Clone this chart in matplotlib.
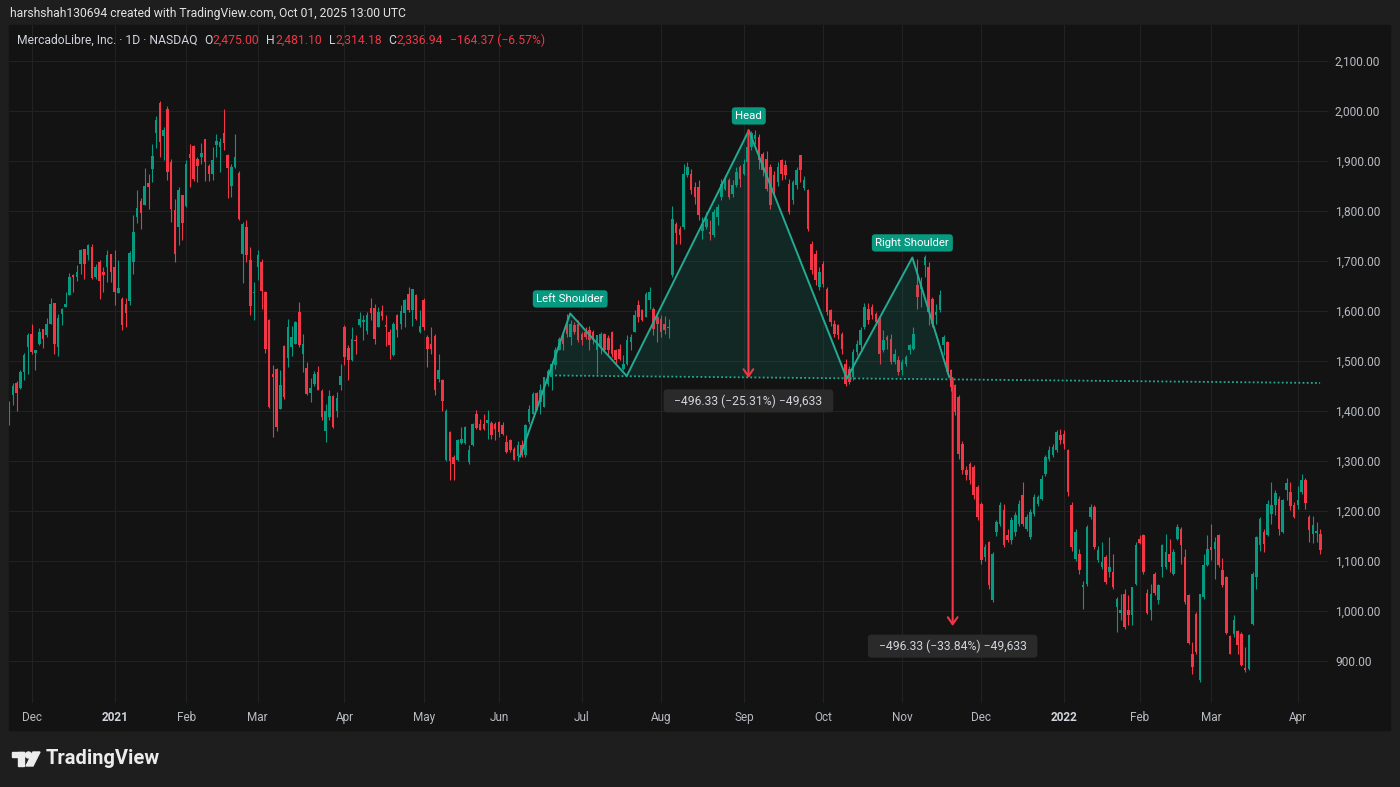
import numpy as np
import pandas as pd
import matplotlib.pyplot as plt
from matplotlib.patches import Rectangle, Ellipse, Polygon

plt.rcParams['font.family'] = ['Roboto', 'DejaVu Sans']

# NASDAQ holidays inside the shown range
holidays = ['2020-11-26', '2020-12-25', '2021-01-01', '2021-01-18', '2021-02-15',
            '2021-04-02', '2021-05-31', '2021-07-05', '2021-09-06', '2021-11-25',
            '2021-12-24', '2022-01-17', '2022-02-21']

# MELI daily candles (one row per month)
opens = [
    1380, 1432, 1457, 1447, 1478, 1528,
    1554, 1516, 1534, 1565, 1552, 1575, 1617, 1528, 1594, 1608, 1632, 1672, 1668, 1695, 1725, 1712, 1728, 1668, 1698, 1679, 1688, 1715,
    1688, 1636, 1625, 1615, 1620, 1699, 1789, 1821, 1812, 1857, 1885, 1957, 2017, 1951, 2004, 1899, 1802, 1769, 1832,
    1810, 1914, 1930, 1904, 1909, 1945, 1891, 1874, 1932, 1928, 1957, 1912, 1850, 1889, 1877, 1715, 1769, 1702, 1636,
    1689, 1699, 1639, 1582, 1474, 1485, 1405, 1530, 1507, 1529, 1535, 1599, 1514, 1487, 1437, 1454, 1479, 1441, 1360, 1389, 1430, 1401, 1452,
    1569, 1527, 1502, 1543, 1572, 1579, 1561, 1607, 1607, 1569, 1601, 1572, 1559, 1512, 1592, 1575, 1597, 1634, 1602, 1632, 1559,
    1623, 1549, 1535, 1551, 1465, 1462, 1302, 1358, 1309, 1303, 1337, 1337, 1299, 1332, 1395, 1374, 1375, 1377, 1377, 1374,
    1379, 1372, 1339, 1343, 1325, 1310, 1332, 1312, 1379, 1395, 1437, 1419, 1409, 1455, 1469, 1492, 1522, 1552, 1575, 1549, 1572, 1575,
    1554, 1559, 1563, 1559, 1522, 1529, 1555, 1547, 1559, 1522, 1525, 1485, 1495, 1539, 1559, 1612, 1602, 1589, 1622, 1605, 1589,
    1585, 1575, 1566, 1672, 1775, 1765, 1769, 1872, 1875, 1849, 1849, 1761, 1769, 1759, 1752, 1789, 1829, 1845, 1862, 1835, 1852, 1889,
    1875, 1899, 1929, 1945, 1949, 1915, 1905, 1889, 1872, 1859, 1902, 1892, 1855, 1822, 1852, 1912, 1847, 1842, 1735, 1715, 1649,
    1695, 1645, 1602, 1575, 1572, 1555, 1495, 1485, 1469, 1519, 1532, 1569, 1605, 1609, 1595, 1582, 1522, 1549, 1545, 1499, 1502,
    1482, 1495, 1522, 1525, 1652, 1645, 1692, 1689, 1625, 1592, 1602, 1532, 1539, 1482, 1452, 1429, 1335, 1282, 1295, 1289, 1249,
    1215, 1109, 1138, 1022, 1158, 1175, 1202, 1152, 1142, 1158, 1175, 1232, 1165, 1148, 1195, 1215, 1225, 1275, 1305, 1312, 1322, 1352,
    1355, 1322, 1212, 1105, 1115, 1049, 1055, 1189, 1209, 1102, 1089, 1109, 1079, 1079, 1009, 997, 1035, 1002, 992, 1055,
    1145, 1152, 1037, 1003, 1075, 1022, 1089, 1089, 1115, 1075, 1145, 1165, 1109, 1032, 915, 995, 862, 1029, 1092,
    1129, 1125, 1152, 1083, 1069, 950, 955, 960, 955, 887, 885, 975, 1069, 1132, 1159, 1152, 1194, 1212, 1225, 1159, 1242, 1239, 1212,
    1212, 1239, 1263, 1189, 1155, 1157, 1154,
]
highs = [
    1420, 1456, 1460, 1482, 1517, 1557,
    1575, 1523, 1567, 1565, 1586, 1627, 1617, 1594, 1606, 1638, 1676, 1674, 1692, 1725, 1725, 1734, 1734, 1694, 1702, 1688, 1722, 1715,
    1723, 1703, 1628, 1627, 1720, 1792, 1843, 1827, 1887, 1875, 1935, 1990, 2020, 1969, 2010, 1905, 1825, 1849, 1832,
    1902, 1935, 1933, 1909, 1937, 1945, 1894, 1929, 1954, 1947, 2004, 1915, 1894, 1954, 1881, 1779, 1782, 1729, 1659,
    1722, 1705, 1641, 1585, 1492, 1487, 1482, 1532, 1585, 1570, 1581, 1619, 1554, 1499, 1467, 1481, 1491, 1444, 1414, 1443, 1433, 1439, 1495,
    1572, 1532, 1569, 1552, 1599, 1592, 1599, 1627, 1615, 1609, 1612, 1592, 1565, 1579, 1595, 1612, 1625, 1649, 1645, 1635, 1603,
    1626, 1552, 1569, 1554, 1515, 1465, 1404, 1360, 1312, 1345, 1369, 1370, 1332, 1377, 1403, 1385, 1395, 1403, 1381, 1379,
    1381, 1379, 1352, 1345, 1329, 1341, 1342, 1375, 1412, 1439, 1439, 1455, 1469, 1485, 1499, 1529, 1549, 1555, 1595, 1582, 1579, 1582,
    1559, 1569, 1570, 1562, 1552, 1559, 1557, 1552, 1561, 1525, 1535, 1512, 1552, 1555, 1602, 1622, 1605, 1639, 1649, 1609, 1595,
    1592, 1590, 1585, 1810, 1779, 1770, 1895, 1899, 1885, 1859, 1862, 1789, 1799, 1782, 1805, 1815, 1865, 1872, 1867, 1862, 1889, 1892,
    1905, 1939, 1961, 1962, 1955, 1918, 1920, 1895, 1880, 1899, 1905, 1902, 1865, 1862, 1889, 1912, 1870, 1845, 1740, 1722, 1689,
    1700, 1649, 1605, 1582, 1575, 1559, 1505, 1490, 1525, 1542, 1569, 1617, 1617, 1615, 1599, 1589, 1562, 1552, 1555, 1525, 1510,
    1505, 1512, 1535, 1569, 1705, 1669, 1712, 1699, 1629, 1615, 1642, 1552, 1541, 1485, 1455, 1432, 1340, 1290, 1299, 1292, 1252,
    1218, 1135, 1140, 1118, 1182, 1218, 1215, 1165, 1188, 1198, 1222, 1258, 1195, 1205, 1235, 1232, 1272, 1312, 1330, 1335, 1362, 1365,
    1362, 1325, 1218, 1165, 1125, 1060, 1172, 1215, 1212, 1130, 1139, 1112, 1148, 1115, 1029, 1035, 1045, 1032, 1049, 1139,
    1152, 1155, 1045, 1055, 1078, 1055, 1135, 1155, 1145, 1125, 1175, 1169, 1125, 1035, 938, 998, 1035, 1115, 1152,
    1175, 1149, 1155, 1107, 1071, 952, 992, 962, 958, 929, 955, 1078, 1150, 1189, 1165, 1222, 1259, 1242, 1230, 1225, 1267, 1259, 1219,
    1250, 1275, 1266, 1192, 1190, 1178, 1165,
]
lows = [
    1372, 1412, 1400, 1445, 1462, 1475,
    1515, 1482, 1532, 1527, 1549, 1575, 1515, 1510, 1572, 1608, 1632, 1638, 1660, 1674, 1665, 1702, 1665, 1665, 1625, 1638, 1658, 1658,
    1612, 1636, 1563, 1568, 1612, 1674, 1777, 1765, 1812, 1805, 1858, 1927, 1909, 1902, 1862, 1779, 1699, 1732, 1742,
    1809, 1849, 1861, 1859, 1895, 1861, 1861, 1862, 1909, 1879, 1923, 1827, 1829, 1887, 1782, 1657, 1699, 1593, 1582,
    1663, 1605, 1517, 1407, 1349, 1361, 1405, 1425, 1489, 1510, 1534, 1529, 1479, 1432, 1419, 1450, 1442, 1382, 1339, 1382, 1367, 1389, 1442,
    1492, 1462, 1500, 1515, 1569, 1542, 1555, 1582, 1535, 1569, 1582, 1530, 1505, 1510, 1549, 1565, 1569, 1599, 1570, 1583, 1557,
    1563, 1489, 1515, 1432, 1459, 1400, 1300, 1262, 1262, 1300, 1335, 1335, 1295, 1330, 1365, 1362, 1363, 1345, 1345, 1343,
    1349, 1352, 1317, 1319, 1302, 1301, 1309, 1309, 1375, 1395, 1402, 1395, 1409, 1450, 1442, 1485, 1522, 1522, 1549, 1532, 1555, 1539,
    1532, 1545, 1522, 1535, 1475, 1515, 1519, 1510, 1509, 1495, 1502, 1482, 1492, 1522, 1559, 1579, 1581, 1589, 1605, 1552, 1539,
    1549, 1555, 1547, 1668, 1735, 1735, 1765, 1869, 1835, 1815, 1782, 1745, 1765, 1743, 1749, 1772, 1822, 1842, 1825, 1829, 1849, 1849,
    1872, 1895, 1922, 1935, 1885, 1870, 1840, 1805, 1835, 1850, 1862, 1865, 1795, 1815, 1845, 1859, 1842, 1760, 1675, 1652, 1642,
    1648, 1592, 1570, 1549, 1545, 1515, 1450, 1455, 1462, 1512, 1525, 1565, 1575, 1585, 1572, 1495, 1519, 1525, 1495, 1495, 1472,
    1472, 1490, 1515, 1523, 1605, 1609, 1669, 1572, 1569, 1575, 1599, 1512, 1475, 1440, 1392, 1305, 1275, 1262, 1255, 1225, 1182,
    1095, 1100, 1045, 1018, 1150, 1170, 1128, 1138, 1135, 1150, 1170, 1170, 1160, 1145, 1190, 1210, 1222, 1270, 1300, 1308, 1318, 1335,
    1325, 1230, 1120, 1100, 1075, 1005, 1050, 1185, 1125, 1098, 1085, 1055, 1069, 1045, 958, 982, 965, 972, 972, 1052,
    1135, 1075, 995, 983, 1033, 1015, 1069, 1085, 1079, 1073, 1142, 1095, 1015, 935, 875, 915, 858, 1025, 1090,
    1102, 1065, 1089, 1049, 955, 914, 949, 915, 890, 879, 883, 972, 1045, 1121, 1119, 1150, 1175, 1192, 1152, 1157, 1222, 1202, 1187,
    1205, 1235, 1205, 1139, 1137, 1139, 1115,
]
closes = [
    1415, 1450, 1437, 1478, 1512, 1552,
    1518, 1522, 1559, 1545, 1575, 1615, 1534, 1587, 1605, 1615, 1668, 1668, 1678, 1722, 1695, 1732, 1667, 1688, 1661, 1672, 1712, 1679,
    1638, 1647, 1572, 1597, 1717, 1759, 1807, 1797, 1850, 1849, 1911, 1982, 1939, 1962, 1879, 1805, 1715, 1842, 1777,
    1894, 1907, 1865, 1890, 1917, 1899, 1875, 1903, 1941, 1938, 1937, 1887, 1889, 1909, 1785, 1774, 1712, 1611, 1638,
    1712, 1641, 1525, 1409, 1469, 1369, 1452, 1429, 1569, 1549, 1579, 1532, 1535, 1434, 1447, 1475, 1443, 1389, 1401, 1430, 1369, 1427, 1470,
    1509, 1502, 1545, 1541, 1585, 1582, 1592, 1597, 1545, 1599, 1591, 1569, 1532, 1575, 1562, 1601, 1622, 1602, 1645, 1585, 1570,
    1569, 1525, 1525, 1443, 1482, 1420, 1400, 1301, 1295, 1342, 1345, 1368, 1322, 1375, 1367, 1363, 1365, 1382, 1352, 1365,
    1359, 1355, 1319, 1322, 1303, 1332, 1312, 1372, 1405, 1435, 1403, 1442, 1469, 1480, 1495, 1522, 1545, 1535, 1555, 1575, 1559, 1542,
    1542, 1549, 1542, 1542, 1552, 1555, 1522, 1522, 1515, 1502, 1505, 1495, 1542, 1549, 1592, 1589, 1582, 1635, 1639, 1565, 1575,
    1559, 1562, 1568, 1785, 1757, 1752, 1875, 1889, 1842, 1829, 1792, 1775, 1785, 1755, 1799, 1809, 1855, 1867, 1829, 1852, 1879, 1865,
    1895, 1929, 1957, 1952, 1902, 1882, 1845, 1812, 1842, 1889, 1875, 1872, 1799, 1859, 1882, 1882, 1862, 1765, 1682, 1662, 1679,
    1655, 1599, 1579, 1555, 1552, 1525, 1455, 1459, 1519, 1535, 1562, 1609, 1582, 1592, 1579, 1515, 1542, 1542, 1499, 1515, 1479,
    1499, 1509, 1532, 1555, 1629, 1652, 1709, 1599, 1575, 1599, 1632, 1549, 1479, 1449, 1399, 1315, 1282, 1272, 1262, 1232, 1189,
    1102, 1128, 1052, 1115, 1178, 1212, 1132, 1142, 1182, 1192, 1215, 1175, 1188, 1198, 1228, 1228, 1265, 1308, 1322, 1329, 1358, 1342,
    1335, 1238, 1128, 1158, 1082, 1052, 1169, 1209, 1129, 1122, 1099, 1059, 1089, 1049, 1025, 1002, 969, 992, 1049, 1132,
    1137, 1079, 997, 1035, 1037, 1052, 1132, 1119, 1099, 1119, 1169, 1132, 1019, 937, 889, 918, 1035, 1092, 1125,
    1122, 1139, 1092, 1052, 957, 915, 983, 932, 892, 882, 952, 1075, 1149, 1185, 1134, 1215, 1212, 1237, 1165, 1223, 1257, 1210, 1189,
    1223, 1263, 1217, 1162, 1172, 1160, 1123,
]

# head & shoulders drawing (bar index, price)
pattern_x = [135.6, 148.9, 163.9, 196.3, 222.3, 239.7, 249.5]
pattern_y = [1309, 1595, 1470, 1961, 1465, 1707, 1468]
neck_x = [144.9, 347.9]
neck_y = [1471, 1456]
label_names = ['Left Shoulder', 'Head', 'Right Shoulder']
label_at = [1, 3, 5]
measure_x = [196.2, 250.4]
measure_top = [1962, 1466]
measure_bottom = [1466, 970]
measure_text = ['\u2212496.33 (\u221225.31%) \u221249,633', '\u2212496.33 (\u221233.84%) \u221249,633']
price_ticks = list(range(900, 2101, 100))

W, H = 1400, 787
UP, DOWN = '#089981', '#f23645'
LINE = '#22ab94'
BG, FRAME = '#131313', '#1e1e1e'
TXT = '#d1d4dc'
AXTXT = '#b8bbc2'
FS = 8.7


def fx(px):
    return px / W


def fy(py):
    return 1 - py / H


dates = pd.bdate_range('2020-11-20', '2022-04-11')
dates = dates[~dates.isin(pd.to_datetime(holidays))][:len(closes)]

o = np.array(opens, float)
h = np.array(highs, float)
l = np.array(lows, float)
c = np.array(closes, float)
idx = np.arange(len(c))

fig = plt.figure(figsize=(14, 7.87), dpi=100, facecolor=FRAME)
fig.patches.append(Rectangle((fx(9), fy(730)), fx(1390) - fx(9), fy(25) - fy(730),
                             transform=fig.transFigure, color=BG, zorder=-5))

ax = fig.add_axes([fx(9), fy(703), fx(1328) - fx(9), fy(25) - fy(703)])
ax.set_facecolor(BG)
ax.set_xlim(-0.02, 350.0)
ax.set_ylim(816, 2172)
for s in ax.spines.values():
    s.set_visible(False)

# month ticks
month_start = [i for i in range(1, len(dates)) if dates[i].month != dates[i - 1].month]
month_lab = [str(dates[i].year) if dates[i].month == 1 else dates[i].strftime('%b') for i in month_start]
ax.set_xticks(month_start, month_lab)
ax.tick_params(axis='x', length=0, pad=6, labelsize=8.5, labelcolor=AXTXT)
for t in ax.get_xticklabels():
    if t.get_text().isdigit():
        t.set_fontweight('bold')
        t.set_color(TXT)

ax.yaxis.tick_right()
ax.set_yticks(price_ticks, [f'{p:,.2f}' for p in price_ticks])
ax.tick_params(axis='y', length=0, pad=5, labelsize=8.6, labelcolor=AXTXT)
ax.grid(True, color='#222222', lw=0.8)
ax.set_axisbelow(True)

# candles
cols = np.where(c >= o, UP, DOWN)
ax.vlines(idx, l, h, colors=cols, lw=0.8, zorder=2)
ax.bar(idx, np.maximum(np.abs(c - o), 1.5), bottom=np.minimum(o, c), width=0.68,
       color=cols, lw=0, zorder=3)

# pattern
px_ = np.array(pattern_x)
py_ = np.array(pattern_y)
base = np.interp(px_, neck_x, neck_y)
ax.fill_between(px_, py_, base, where=py_ >= base, interpolate=True, color=UP, alpha=0.16, lw=0, zorder=4)
ax.plot(px_, py_, color=LINE, lw=1.4, zorder=5)
ax.plot(neck_x, neck_y, color=LINE, lw=1.3, ls=(0, (1, 1.3)), zorder=5)

for name, k in zip(label_names, label_at):
    ax.annotate(name, xy=(pattern_x[k], pattern_y[k]), xytext=(0, 10.5), textcoords='offset points',
                ha='center', va='center', fontsize=8.2, color='white', zorder=7,
                bbox=dict(boxstyle='round,pad=0.32,rounding_size=0.3', fc=UP, ec='none'))

for mx, top, bot, txt, off in zip(measure_x, measure_top, measure_bottom, measure_text, [-16.5, -14.5]):
    ax.annotate('', xy=(mx, bot), xytext=(mx, top),
                arrowprops=dict(arrowstyle='->,head_length=0.5,head_width=0.35', color=DOWN, lw=1.5,
                                shrinkA=0, shrinkB=0, mutation_scale=10), zorder=6)
    ax.annotate('  ' + txt + '  ', xy=(mx, bot), xytext=(0, off), textcoords='offset points',
                ha='center', va='center', fontsize=FS, color=TXT, zorder=7,
                bbox=dict(boxstyle='round,pad=0.4,rounding_size=0.3', fc='#2a2a2a', ec='none'))

# header
fig.text(fx(10), fy(14), 'harshshah130694 created with TradingView.com, Oct 01, 2025 13:00 UTC',
         color='#e4e4e4', fontsize=FS, va='center', ha='left')
prev = fig.text(fx(17), fy(40), 'MercadoLibre, Inc. \u00b7 1D \u00b7 NASDAQ', color=TXT, fontsize=FS,
                va='center', ha='left')
pieces = [('O', TXT, 5), ('2,475.00', DOWN, 0), ('H', TXT, 5), ('2,481.10', DOWN, 0),
          ('L', TXT, 5), ('2,314.18', DOWN, 0), ('C', TXT, 5), ('2,336.94', DOWN, 0),
          ('\u2212164.37 (\u22126.57%)', DOWN, 5)]
for txt, col, gap in pieces:
    prev = ax.annotate(txt, xy=(1, 0.5), xycoords=prev, xytext=(gap, 0), textcoords='offset points',
                       va='center', ha='left', color=col, fontsize=FS, annotation_clip=False)

# TradingView logo
logo = '#ececec'
fig.patches.append(Rectangle((fx(12), fy(757)), fx(24) - fx(12), fy(752) - fy(757), transform=fig.transFigure, color=logo))
fig.patches.append(Rectangle((fx(18), fy(766)), fx(24) - fx(18), fy(752) - fy(766), transform=fig.transFigure, color=logo))
fig.patches.append(Ellipse((fx(28.5), fy(755)), 6 / W, 6 / H, transform=fig.transFigure, color=logo))
fig.patches.append(Polygon([(fx(33), fy(752)), (fx(40), fy(752)), (fx(33), fy(766)), (fx(26), fy(766))],
                           closed=True, transform=fig.transFigure, color=logo))
fig.text(fx(46), fy(759), 'TradingView', color=logo, fontsize=14.5, fontweight='bold', va='center', ha='left')

fig.savefig('out.png', dpi=100, facecolor=FRAME)
